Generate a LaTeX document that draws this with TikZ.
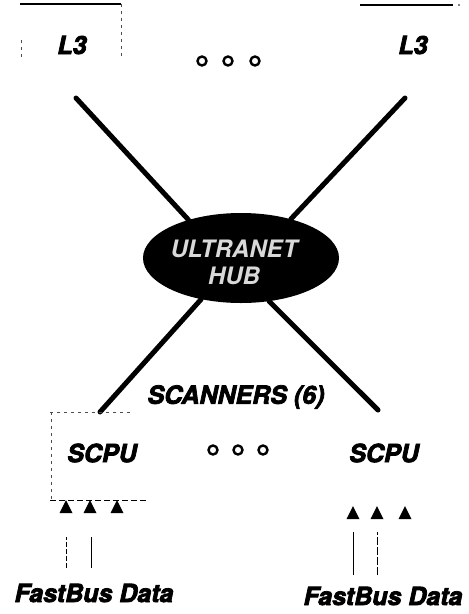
\documentclass[tikz,border=0pt]{standalone}
\usepackage{fontspec}
\newfontfamily\hv{TeX Gyre Heros}[FakeBold=3]
\newfontfamily\hvl{TeX Gyre Heros}
\usetikzlibrary{shapes.geometric}
\tikzset{
  lbl/.style={font=\hv\bfseries\itshape\fontsize{25}{30}\selectfont, inner sep=0pt},
  hubtext/.style={font=\hvl\bfseries\itshape\fontsize{24}{30}\selectfont, text=white!85!black, align=center},
  thick line/.style={line width=5pt, line cap=round},
  dotc/.style={circle, draw, line width=2.4pt, minimum size=9pt, inner sep=0pt},
  tri/.style={isosceles triangle, isosceles triangle stretches, shape border rotate=90, fill=black, inner sep=0pt, minimum height=13pt, minimum width=13pt},
  faint/.style={line width=0.8pt, dash pattern=on 3pt off 4pt, black!70},
  thinv/.style={line width=1pt}
}
\begin{document}
\begin{tikzpicture}[x=1pt,y=-1pt]
\useasboundingbox (0,0) rectangle (469,614);
% top boxes
\draw[line width=1.6pt] (20,4) -- (121,4);
\draw[faint] (121,4) -- (121,56);
\draw[faint] (21,40) -- (21,58);
\draw[line width=1.6pt] (360,5) -- (453,5);
\fill (459,5) circle (0.9pt);
% labels
\node[lbl] (l3a) at (72,45) {L3};
\node[lbl] (l3b) at (413,45) {L3};
\node[dotc] (d1) at (202,61) {};
\node[dotc] (d2) at (228,61) {};
\node[dotc] (d3) at (255,61) {};
% hub
\node[ellipse, fill=black, minimum width=196pt, minimum height=90pt, inner sep=0pt] (hub) at (241,258) {};
\node[hubtext] (hubt) at (234,262) {ULTRANET\\[-3pt]HUB};
\coordinate (tl) at (76,98);
\coordinate (tr) at (405,98);
\coordinate (bl) at (100,412);
\coordinate (br) at (378,410);
\draw[thick line] (tl) -- (hub.144);
\draw[thick line] (tr) -- (hub.38);
\draw[thick line] (bl) -- (hub.226);
\draw[thick line] (br) -- (hub.303);
\node[lbl] (scan) at (236,397) {SCANNERS (6)};
% scpu left box
\draw[faint] (50,412) -- (130,412);
\draw[faint] (51,412) -- (51,500);
\draw[line width=1pt, dash pattern=on 6pt off 3pt] (50,500) -- (148,500);
\node[lbl] (scpua) at (102,453) {SCPU};
\node[lbl] (scpub) at (384,453) {SCPU};
\node[dotc] (m1) at (213,450) {};
\node[dotc] (m2) at (238,450) {};
\node[dotc] (m3) at (263,450) {};
% triangles
\node[tri] (ta1) at (66,509) {};
\node[tri] (ta2) at (90,509) {};
\node[tri] (ta3) at (117,509) {};
\node[tri] (tb1) at (353,515) {};
\node[tri] (tb2) at (377,515) {};
\node[tri] (tb3) at (405,515) {};
% data lines
\node[lbl] (fba) at (94,593) {FastBus Data};
\node[lbl] (fbb) at (383,596) {FastBus Data};
\coordinate (a1b) at (66,568); \coordinate (a1t) at (66,537);
\coordinate (a2b) at (91,568); \coordinate (a2t) at (91,537);
\coordinate (b1b) at (353,575); \coordinate (b1t) at (353,532);
\coordinate (b2b) at (377,575); \coordinate (b2t) at (377,532);
\draw[thinv, dash pattern=on 5pt off 2pt] (a1b) -- (a1t);
\draw[thinv] (a2b) -- (a2t);
\draw[thinv] (b1b) -- (b1t);
\draw[thinv, dash pattern=on 8pt off 2pt] (b2b) -- (b2t);
\end{tikzpicture}
\end{document}
